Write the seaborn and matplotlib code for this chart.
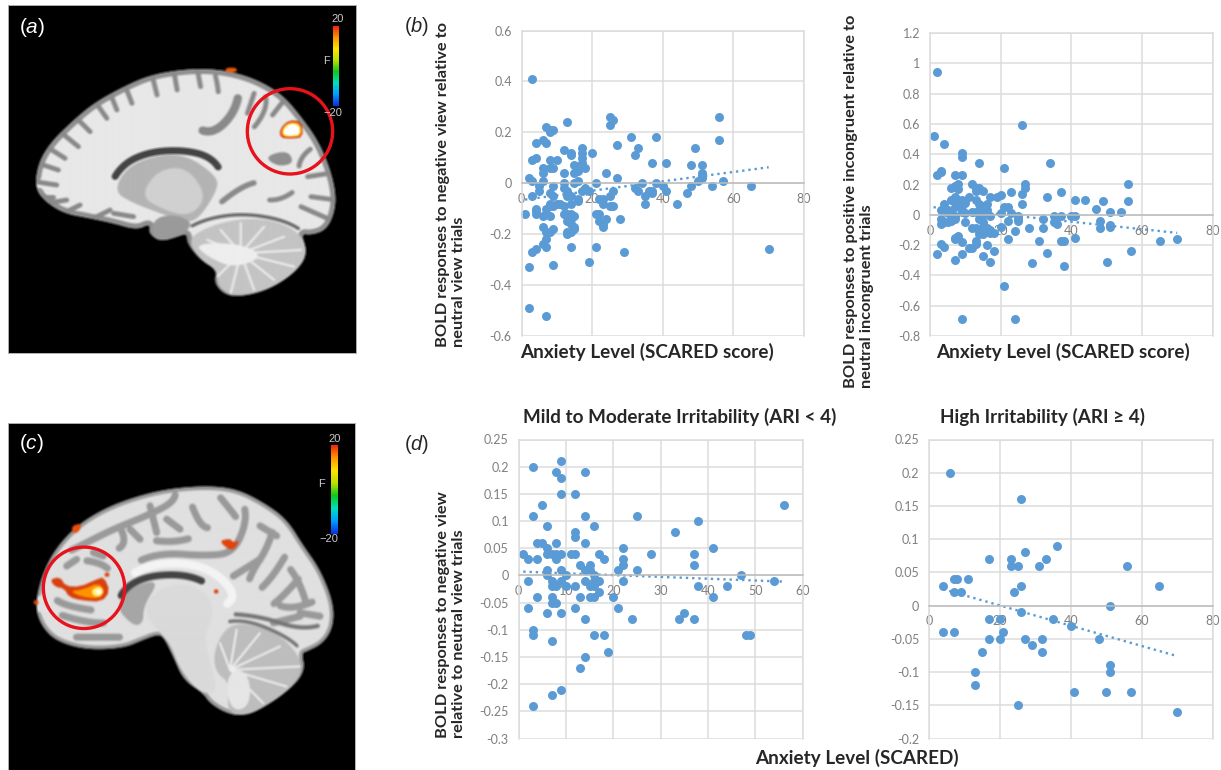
import numpy as np
import pandas as pd
import matplotlib
matplotlib.use("Agg")
import matplotlib.pyplot as plt
import seaborn as sns
from matplotlib.backends.backend_agg import FigureCanvasAgg
from matplotlib.colors import LinearSegmentedColormap
from matplotlib.figure import Figure
from matplotlib.patches import Circle, Polygon

# (SCARED score, BOLD response)
negative_view_all = [
    (3,0.41),(2,-0.33),(2,-0.49),(7,-0.52),(9,-0.32),(3,-0.27),(4,-0.26),(1,-0.12),
    (7,0.22),(8,0.21),(9,0.21),(8,0.2),(4,0.16),(6,0.17),(7,0.16),(3,0.09),(4,0.1),
    (2,0.02),(3,0.01),(3,-0.05),(4,-0.1),(4,-0.12),(4,-0.11),(5,-0.01),(5,-0.03),
    (6,0.01),(6,0.04),(6,0.06),(8,0.09),(8,0.06),(9,0.06),(10,0.09),(9,-0.01),
    (8,-0.04),(9,-0.05),(8,-0.08),(7,-0.1),(8,-0.09),(9,-0.09),(10,-0.08),(11,-0.08),
    (12,-0.09),(6,-0.13),(8,-0.13),(7,-0.12),(6,-0.17),(7,-0.19),(8,-0.19),(9,-0.18),
    (7,-0.22),(7,-0.25),(6,-0.24),(12,0.13),(13,0.24),(14,0.12),(14,0.11),(12,0.04),
    (12,0),(12,-0.02),(13,-0.03),(13,-0.05),(14,-0.05),(14,-0.08),(12,-0.12),(13,-0.12),
    (14,-0.12),(14,-0.14),(15,-0.13),(13,-0.15),(14,-0.16),(13,-0.19),(14,-0.19),
    (13,-0.2),(15,-0.18),(15,-0.17),(14,-0.25),(15,0.07),(15,0.04),(16,0.05),(17,0.07),
    (16,0.01),(15,0),(17,0.14),(17,0.12),(17,0.1),(17,0.08),(18,0.06),(16,-0.06),
    (17,-0.03),(18,-0.02),(16,-0.07),(19,-0.03),(20,0.12),(21,0),(19,-0.31),(21,-0.25),
    (21,-0.12),(22,-0.12),(22,-0.06),(23,-0.06),(23,-0.08),(22,-0.15),(23,-0.16),
    (23,-0.17),(24,-0.14),(24,0.04),(25,0.26),(26,0.25),(25,0.23),(27,0.15),(27,0.02),
    (26,-0.03),(25,-0.05),(25,-0.09),(26,-0.09),(28,-0.14),(29,-0.27),(31,0.18),
    (32,0.11),(33,0.14),(32,-0.02),(33,-0.03),(34,0),(35,-0.08),(35,-0.05),(36,-0.03),
    (37,-0.04),(37,-0.03),(37,0.08),(38,0.18),(38,0),(40,-0.01),(41,0.08),(41,-0.03),
    (44,-0.08),(47,-0.04),(48,0.07),(48,-0.01),(49,0.14),(50,0.01),(51,0.07),(51,0.04),
    (51,0.03),(51,0.02),(54,-0.01),(56,0.26),(56,0.17),(57,0.01),(65,-0.01),(70,-0.26),
]
positive_incongruent_all = [
    (2,0.94),(1,0.52),(4,0.47),(9,0.41),(9,0.38),(14,0.34),(26,0.59),(34,0.34),(21,0.31),
    (3,0.29),(2,0.26),(7,0.26),(9,0.26),(3,0.28),(6,0.18),(7,0.19),(8,0.2),(8,0.17),
    (7,0.12),(6,0.1),(7,0.09),(8,0.1),(9,0.1),(8,0.08),(9,0.06),(7,0.05),(10,0.08),
    (11,0.12),(4,0.07),(4,0.03),(3,0.03),(5,0.01),(6,0.01),(5,0.03),(9,0.02),(10,0.01),
    (7,-0.01),(7,-0.03),(6,-0.04),(5,-0.05),(4,-0.05),(3,-0.03),(3,-0.06),(10,-0.05),
    (12,0.2),(13,0.18),(13,0.16),(14,0.18),(15,0.16),(13,0.1),(14,0.07),(15,0.06),
    (16,0.07),(12,0.02),(13,0.02),(14,0.03),(15,0.03),(16,0.03),(15,0),(14,-0.03),
    (15,-0.05),(17,-0.01),(12,-0.09),(13,-0.09),(15,-0.08),(16,-0.09),(17,-0.1),
    (18,-0.12),(17,-0.12),(15,-0.13),(14,-0.13),(13,-0.17),(13,-0.19),(11,-0.22),
    (12,-0.22),(15,-0.27),(16,-0.2),(17,-0.31),(18,-0.24),(3,-0.19),(4,-0.21),(2,-0.26),
    (7,-0.3),(9,-0.26),(9,-0.18),(7,-0.15),(8,-0.14),(7,-0.16),(17,0.12),(19,0.12),
    (20,0.13),(20,0.01),(20,-0.08),(21,-0.47),(22,-0.16),(22,0.05),(21,0.05),(23,0.01),
    (23,0.15),(22,-0.04),(24,-0.11),(25,-0.03),(25,-0.01),(25,-0.04),(26,0.14),(26,0.07),
    (27,0.2),(27,0.18),(28,-0.09),(29,-0.32),(31,-0.17),(32,-0.03),(32,-0.09),(33,0.12),
    (33,-0.25),(35,-0.01),(35,-0.05),(36,-0.06),(37,0.15),(37,-0.01),(37,-0.17),(38,-0.17),
    (38,-0.34),(40,-0.01),(41,-0.01),(41,0.1),(41,-0.15),(44,0.1),(47,0.04),(48,-0.04),
    (48,-0.09),(49,0.09),(50,-0.31),(51,0.02),(51,-0.07),(51,-0.08),(54,0.02),(56,0.2),
    (56,0.09),(57,-0.24),(65,-0.17),(70,-0.16),(9,-0.69),(24,-0.69),
]
mild_irritability = [
    (3,0.2),(9,0.21),(8,0.19),(9,0.18),(14,0.19),(9,0.15),(12,0.15),(5,0.13),(3,0.11),
    (14,0.11),(25,0.11),(6,0.09),(16,0.09),(38,0.1),(56,0.13),(33,0.08),(12,0.08),(12,0.07),
    (4,0.06),(5,0.06),(8,0.06),(14,0.06),(6,0.05),(22,0.05),(41,0.05),(1,0.04),(6,0.04),
    (7,0.04),(8,0.04),(9,0.04),(11,0.04),(12,0.04),(17,0.04),(28,0.04),(37,0.04),(2,0.03),
    (4,0.03),(8,0.03),(18,0.03),(22,0.03),(13,0.02),(15,0.02),(22,0.02),(37,0.02),(6,0.01),
    (9,0.01),(14,0.01),(15,0.01),(21,0.01),(25,0.01),(6,0),(10,0),(16,0),(47,0),(2,-0.01),
    (7,-0.01),(9,-0.01),(14,-0.01),(16,-0.01),(17,-0.01),(22,-0.01),(54,-0.01),(7,-0.02),
    (8,-0.02),(10,-0.02),(12,-0.02),(15,-0.02),(16,-0.02),(38,-0.02),(44,-0.02),(17,-0.03),
    (4,-0.04),(7,-0.04),(13,-0.04),(15,-0.04),(16,-0.04),(20,-0.04),(41,-0.04),(7,-0.05),
    (8,-0.05),(2,-0.06),(12,-0.06),(21,-0.06),(6,-0.07),(9,-0.07),(35,-0.07),(14,-0.08),
    (24,-0.08),(34,-0.08),(37,-0.08),(3,-0.1),(3,-0.11),(16,-0.11),(18,-0.11),(48,-0.11),
    (49,-0.11),(7,-0.12),(19,-0.14),(14,-0.15),(13,-0.17),(9,-0.21),(7,-0.22),(3,-0.24),
]
high_irritability = [
    (6,0.2),(26,0.16),(36,0.09),(27,0.08),(17,0.07),(23,0.07),(33,0.07),(23,0.06),(25,0.06),
    (31,0.06),(56,0.06),(7,0.04),(8,0.04),(11,0.04),(4,0.03),(26,0.03),(65,0.03),(7,0.02),
    (9,0.02),(24,0.02),(51,0),(26,-0.01),(17,-0.02),(20,-0.02),(35,-0.02),(40,-0.03),(4,-0.04),
    (7,-0.04),(21,-0.04),(17,-0.05),(20,-0.05),(27,-0.05),(32,-0.05),(48,-0.05),(29,-0.06),
    (15,-0.07),(32,-0.07),(51,-0.09),(13,-0.1),(51,-0.1),(13,-0.12),(41,-0.13),(50,-0.13),
    (57,-0.13),(25,-0.15),(70,-0.16),
]

xticks_80 = [0, 20, 40, 60, 80]
xticks_60 = [0, 10, 20, 30, 40, 50, 60]
yticks_b1 = [0.6, 0.4, 0.2, 0, -0.2, -0.4, -0.6]
yticks_b2 = [1.2, 1, 0.8, 0.6, 0.4, 0.2, 0, -0.2, -0.4, -0.6, -0.8]
yticks_d1 = [0.25, 0.2, 0.15, 0.1, 0.05, 0, -0.05, -0.1, -0.15, -0.2, -0.25, -0.3]
yticks_d2 = [0.25, 0.2, 0.15, 0.1, 0.05, 0, -0.05, -0.1, -0.15, -0.2]

BLUE = "#5b9bd5"
W, H = 1221, 770

sns.set_style("whitegrid")
plt.rcParams["font.family"] = ["Lato", "DejaVu Sans"]
plt.rcParams["mathtext.fontset"] = "custom"
plt.rcParams["mathtext.it"] = "Liberation Sans:italic"
plt.rcParams["mathtext.rm"] = "Liberation Sans"

fig = plt.figure(figsize=(W / 100, H / 100), dpi=100, facecolor="white")


def add_axes_px(x0, y0, x1, y1):
    return fig.add_axes([x0 / W, 1 - y1 / H, (x1 - x0) / W, (y1 - y0) / H])


def text_px(x, y, s, **kw):
    kw.setdefault("color", "#262626")
    kw.setdefault("ha", "center")
    kw.setdefault("va", "center")
    return fig.text(x / W, 1 - y / H, s, **kw)


def scatter_panel(rect, points, xticks, yticks):
    ax = add_axes_px(*rect)
    df = pd.DataFrame(points, columns=["scared", "bold"])
    sns.regplot(data=df, x="scared", y="bold", ax=ax, ci=None, color=BLUE,
                scatter_kws={"s": 42, "alpha": 1, "linewidths": 0, "clip_on": False},
                line_kws={"ls": ":", "lw": 1.7, "color": BLUE})
    ax.set_xlim(xticks[0], xticks[-1])
    ax.set_ylim(yticks[-1], yticks[0])
    ax.set_xticks(xticks)
    ax.set_yticks(yticks)
    ax.set_xticklabels([str(v) for v in xticks])
    ax.set_yticklabels([str(v) for v in yticks])
    ax.set_xlabel("")
    ax.set_ylabel("")
    ax.grid(True, color="#dcdcdc", lw=1.1)
    ax.set_axisbelow(True)
    for side in ax.spines:
        ax.spines[side].set_color("#dcdcdc")
        ax.spines[side].set_linewidth(1.1)
    ax.spines["bottom"].set_position(("data", 0))
    ax.spines["bottom"].set_color("#bdbdbd")
    ax.tick_params(axis="y", length=0, labelsize=9, labelcolor="#7f7f7f", pad=7)
    ax.tick_params(axis="x", length=0, labelsize=9, labelcolor="#7f7f7f", pad=7)
    return ax


scatter_panel((521.5, 30.5, 804, 336), negative_view_all, xticks_80, yticks_b1)
scatter_panel((930, 33, 1212.5, 336), positive_incongruent_all, xticks_80, yticks_b2)
scatter_panel((518.5, 439.5, 802.5, 738.5), mild_irritability, xticks_60, yticks_d1)
scatter_panel((929, 439.5, 1212.5, 738.5), high_irritability, xticks_80, yticks_d2)

label_kw = dict(fontweight="bold", fontsize=13.6)
text_px(647, 352, "Anxiety Level (SCARED score)", **label_kw)
text_px(1063, 352, "Anxiety Level (SCARED score)", **label_kw)
text_px(857, 758, "Anxiety Level (SCARED)", **label_kw)
text_px(680, 417, "Mild to Moderate Irritability (ARI < 4)", **label_kw)
text_px(1043, 417, "High Irritability (ARI ≥ 4)", **label_kw)

ylab_kw = dict(rotation=90, fontweight="bold", fontsize=11.8, ha="center", va="bottom",
               linespacing=1.15, multialignment="left")
text_px(451, 347, "BOLD responses to negative view relative to\nneutral view trials", **ylab_kw)
text_px(859, 388, "BOLD responses to positive incongruent relative to\nneutral incongruent trials", **ylab_kw)
text_px(451, 738, "BOLD responses to negative view\nrelative to neutral view trials", **ylab_kw)

text_px(417, 27, r"($\mathit{b}$)", fontsize=14.5, family="Liberation Sans")
text_px(417, 445, r"($\mathit{d}$)", fontsize=14.5, family="Liberation Sans")

scale_cmap = LinearSegmentedColormap.from_list(
    "scale", ["#0a32e0", "#00a0ff", "#00e0c0", "#10c820", "#b8e000", "#ffe600", "#ff9a00", "#f02810"])


# --- MRI slices: painted off screen in crop coordinates (3 units = 1 px), then softened
def smooth(points, rounds=3, closed=True):
    p = np.array(points, dtype=float)
    for _ in range(rounds):
        nxt = np.roll(p, -1, axis=0) if closed else p[1:]
        cur = p if closed else p[:-1]
        q = 0.75 * cur + 0.25 * nxt
        r = 0.25 * cur + 0.75 * nxt
        p = np.empty((len(q) * 2, 2))
        p[0::2] = q
        p[1::2] = r
    return p


def soften(img, passes=1):
    out = img.astype(float)
    for _ in range(passes):
        for axis in (0, 1):
            out = (np.roll(out, 1, axis) + out + np.roll(out, -1, axis)) / 3
    return out


def paint_slice(extent, shapes):
    x0, x1, y1, y0 = extent
    off = Figure(figsize=((x1 - x0) / 300, (y1 - y0) / 300), dpi=100, facecolor="black")
    canvas = FigureCanvasAgg(off)
    ax = off.add_axes([0, 0, 1, 1])
    ax.set_xlim(x0, x1)
    ax.set_ylim(y1, y0)
    ax.axis("off")
    shapes(ax)
    canvas.draw()
    return soften(np.asarray(canvas.buffer_rgba())[:, :, :3]) / 255


# same zorder for fills and strokes, so they stack in the order they are added
def fill(ax, pts, color, rounds=3):
    patch = Polygon(smooth(pts, rounds), closed=True, fc=color, ec="none", zorder=2)
    ax.add_patch(patch)
    return patch


def stroke(ax, pts, color, lw, clip=None):
    p = smooth(pts, 3, closed=False) if len(pts) > 2 else np.array(pts)
    line, = ax.plot(p[:, 0], p[:, 1], color=color, lw=lw, solid_capstyle="round", zorder=2)
    if clip is not None:
        line.set_clip_path(clip)


def hot_spot(ax, layers):
    for pts, color in layers:
        fill(ax, pts, color, rounds=1)


outline_a = [(105,560),(115,490),(150,430),(210,370),(280,310),(370,260),(450,225),(550,208),
             (640,207),(720,222),(790,250),(850,290),(900,350),(950,420),(985,500),(1005,580),
             (1000,640),(975,690),(930,705),(900,700),(920,760),(890,810),(820,860),(750,885),
             (680,890),(640,850),(650,810),(600,780),(560,730),(560,700),(530,710),(480,725),
             (445,700),(450,670),(410,690),(340,670),(270,655),(190,640),(130,600)]
sulci_a = [[(105,590),(160,590)], [(105,545),(170,555)], [(115,490),(175,510)], [(140,440),(195,475)],
           [(180,395),(235,440)], [(225,350),(270,395)], [(285,305),(320,355)], [(330,280),(350,330)],
           [(375,258),(395,310)], [(455,225),(470,285)], [(520,212),(530,270)], [(590,207),(600,260)],
           [(640,210),(650,250),(655,295)], [(790,260),(800,330),(730,420)],
           [(850,300),(815,345)], [(950,430),(900,470),(890,520)], [(985,520),(920,530)],
           [(1003,600),(930,590)], [(990,660),(900,620)], [(140,610),(200,600)], [(190,640),(240,615)],
           [(280,655),(330,630)], [(400,650),(340,640)], [(760,280),(740,340)], [(900,560),(840,600),(780,600)]]
outline_c = [(105,590),(125,500),(165,420),(230,350),(310,300),(400,265),(500,240),(620,230),
             (710,240),(790,280),(860,330),(910,410),(960,480),(1000,580),(1000,650),(970,700),
             (920,725),(905,730),(915,780),(880,830),(800,885),(730,918),(680,910),(630,880),
             (610,850),(550,810),(520,740),(490,680),(470,675),(430,690),(370,715),(260,720),
             (170,695),(125,650)]
sulci_c = [[(180,440),(260,400),(340,360),(440,320),(520,280),(530,240)], [(560,250),(600,350),(640,360)],
           [(640,240),(690,300),(720,340)], [(730,270),(740,340),(700,430),(620,440),(480,430),(380,470)],
           [(830,330),(800,420),(760,480),(740,530)], [(880,400),(820,500),(760,560)],
           [(930,470),(850,560),(800,600)], [(980,560),(880,600),(810,580)],
           [(130,600),(260,640),(350,640)], [(170,680),(300,680),(400,680)], [(150,560),(200,590),(330,610)],
           [(230,450),(300,460),(340,490)], [(350,330),(380,400),(340,430)], [(450,290),(470,370)],
           [(600,380),(520,400),(430,390)], [(850,450),(900,520),(930,620)],
           [(200,470),(230,450)], [(280,430),(310,440)], [(390,360),(420,390)], [(500,330),(540,360)],
           [(780,350),(830,380)], [(900,610),(960,620)], [(820,640),(900,620)], [(700,500),(780,450)]]


def shapes_a(ax):
    brain = fill(ax, outline_a, "#e8e8e8")
    stroke(ax, outline_a + outline_a[:1], "#909090", 7, clip=brain)
    for s in sulci_a:
        stroke(ax, s, "#8a8a8a", 3.5, clip=brain)
    stroke(ax, [(580,385),(640,400),(700,340),(720,260)], "#8a8a8a", 6, clip=brain)
    fill(ax, [(790,470),(860,450),(880,490),(830,500)], "#8f8f8f")
    stroke(ax, [(620,640),(720,560),(790,540)], "#8a8a8a", 4)
    fill(ax, [(340,575),(380,500),(470,465),(560,465),(650,530),(650,570),(600,650),(560,670),
              (480,640),(400,610)], "#b4b4b4")
    fill(ax, [(420,590),(470,510),(560,500),(620,590),(570,650),(490,630)], "#d0d0d0")
    stroke(ax, [(325,560),(370,490),(450,455),(550,450),(630,470),(670,525)], "#444444", 5)
    fill(ax, [(450,690),(470,650),(530,645),(580,670),(540,710),(470,725)], "#9a9a9a")
    fill(ax, [(560,720),(620,680),(720,655),(820,660),(900,700),(920,760),(880,820),(800,870),
              (700,890),(650,860),(650,810),(600,780)], "#c4c4c4")
    for end in [(620,720),(660,690),(720,670),(790,680),(850,710),(900,750),(880,800),(820,840),
                (760,870),(690,880),(650,830)]:
        stroke(ax, [(720,760), end], "#eeeeee", 1.5)
    fill(ax, [(580,730),(720,730),(790,770),(700,805),(620,770)], "#eeeeee")
    stroke(ax, [(540,695),(620,655),(730,640),(850,660),(925,705)], "#6f6f6f", 2.5)
    hot_spot(ax, [([(675,203),(708,203),(708,217),(675,217)], "#e8590c"),
                  ([(838,385),(865,360),(902,365),(906,412),(870,416),(838,413)], "#d62f12"),
                  ([(843,385),(866,365),(899,370),(902,408),(870,412),(843,409)], "#ffc400"),
                  ([(848,386),(868,370),(895,375),(897,404),(870,408),(848,405)], "#ffffff")])


def shapes_c(ax):
    brain = fill(ax, outline_c, "#e0e0e0")
    stroke(ax, outline_c + outline_c[:1], "#9a9a9a", 5, clip=brain)
    for s in sulci_c:
        stroke(ax, s, "#9a9a9a", 5, clip=brain)
    stroke(ax, [(370,510),(450,465),(560,460),(650,490),(710,560),(660,600)], "#f4f4f4", 6)
    stroke(ax, [(995,640),(900,660),(780,620),(650,610)], "#777777", 3, clip=brain)
    fill(ax, [(345,590),(395,530),(480,510),(430,590),(430,640),(400,650)], "#a6a6a6")
    fill(ax, [(430,600),(470,540),(560,520),(630,560),(640,620),(610,680),(640,790),(650,850),
              (600,850),(540,780),(510,700),(470,660)], "#dadada")
    stroke(ax, [(350,580),(380,530),(450,498),(560,495),(640,530)], "#444444", 5)
    fill(ax, [(640,740),(660,680),(700,640),(780,650),(860,690),(915,770),(870,840),(780,900),
              (730,918),(680,905),(690,820),(650,790)], "#bdbdbd")
    for end in [(660,700),(710,660),(780,670),(840,710),(900,770),(860,830),(790,880)]:
        stroke(ax, [(690,780), end], "#eeeeee", 1.5)
    fill(ax, [(680,800),(720,775),(750,810),(750,880),(715,905),(685,880)], "#e6e6e6")
    stroke(ax, [(650,640),(740,630),(860,680),(915,730)], "#777777", 2.5)
    hot_spot(ax, [([(150,510),(180,503),(197,530),(240,532),(290,510),(312,503),(330,545),
                    (305,577),(240,572),(207,562),(192,537),(165,532)], "#d9400e"),
                  ([(210,545),(250,540),(295,520),(315,545),(298,568),(245,562)], "#ff9400"),
                  ([(275,540),(300,530),(312,547),(298,562),(278,558)], "#fff27a"),
                  ([(285,545),(298,538),(306,548),(296,557)], "#ffffff"),
                  ([(215,350),(245,342),(238,368),(218,373)], "#e8500c"),
                  ([(658,395),(690,388),(700,400),(720,392),(702,422),(682,418)], "#e0440f"),
                  ([(642,540),(655,540),(655,552),(642,552)], "#e0440f"),
                  ([(101,572),(115,572),(115,585),(101,585)], "#e0440f"),
                  ([(314,490),(328,490),(328,502),(314,502)], "#e0440f")])


def slice_panel(rect, extent, shapes, circle, cbar, tick_pos, letter):
    ax = add_axes_px(*rect)
    ax.imshow(paint_slice(extent, shapes), extent=extent, aspect="auto", zorder=0)
    ax.grid(False)
    ax.set_xticks([])
    ax.set_yticks([])
    for side in ax.spines:
        ax.spines[side].set_color("#b0b0b0")
        ax.spines[side].set_linewidth(0.7)
    ax.add_patch(Circle(circle[:2], circle[2], fill=False, ec="#e8121c", lw=2.4))
    ramp = np.linspace(1, 0, 64)[:, None]
    ax.imshow(ramp, cmap=scale_cmap, extent=cbar, aspect="auto")
    ax.set_xlim(extent[0], extent[1])
    ax.set_ylim(extent[2], extent[3])
    for (tx, ty), s in zip(tick_pos, ["20", "F", "\u221220"]):
        ax.text(tx, ty, s, color="#c8c8c8", fontsize=8, ha="center", va="center",
                family="Liberation Sans")
    ax.text(letter[0], letter[1], letter[2], color="white", fontsize=15, ha="center", va="center",
            family="Liberation Sans")


slice_panel((8, 5, 356, 353), (24, 1068, 1059, 15), shapes_a, (870, 394, 128), (1000, 1018, 318, 78),
            [(1012, 58), (978, 183), (998, 338)], (95, 82, r"($\mathit{a}$)"))
slice_panel((8, 423, 355, 770), (24, 1065, 1080, 40), shapes_c, (252, 534, 122), (992, 1012, 372, 108),
            [(1003, 88), (965, 222), (988, 388)], (95, 102, r"($\mathit{c}$)"))

fig.savefig("out.png", dpi=100, facecolor="white")
